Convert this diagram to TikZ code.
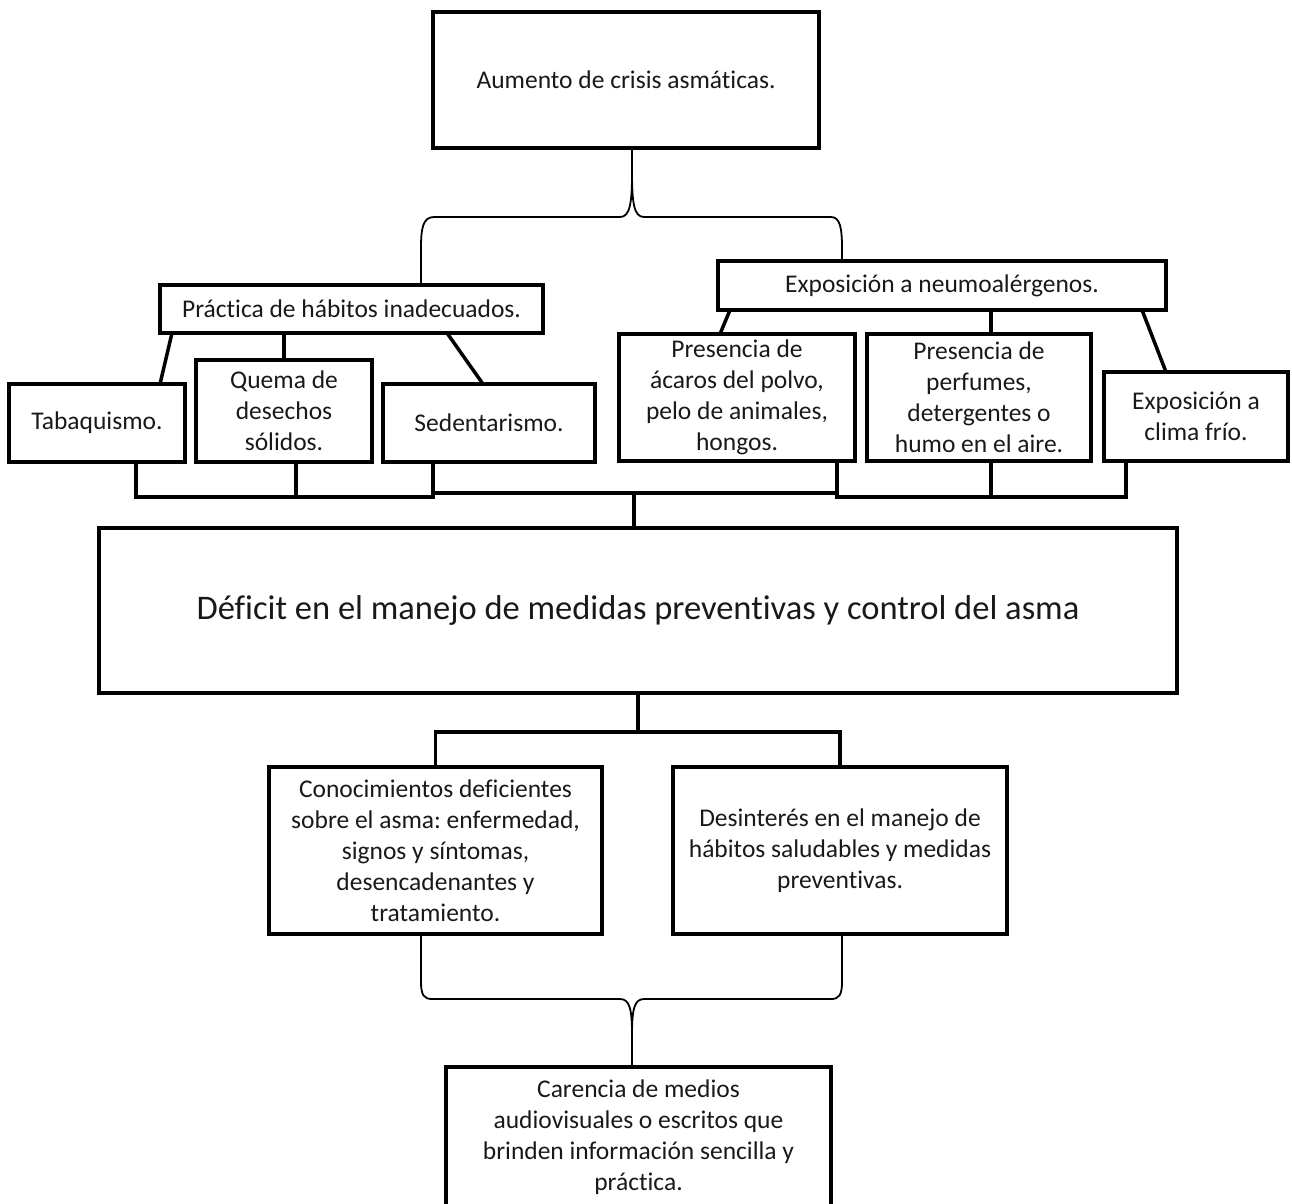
\documentclass[tikz,border=0pt]{standalone}
\usepackage{fontspec}
\setmainfont{Carlito}[Ligatures=NoCommon]
\usetikzlibrary{calc}
\frenchspacing
\begin{document}
\begin{tikzpicture}[x=1pt,y=-1pt,
  box/.style={draw,line width=3.5pt,inner sep=0pt,outer sep=0pt,align=center,
    font=\fontsize{25.5}{31}\selectfont, text=black!90},
  conn/.style={line width=3.5pt},
  brace/.style={line width=1.8pt}]
\useasboundingbox (0,0) rectangle (1292,1203);
\clip (0,0) rectangle (1292,1203);
% boxes
\node[box,minimum width=386pt,minimum height=136pt] (top) at (626,80) {Aumento de crisis asmáticas.};
\node[box,minimum width=383pt,minimum height=48pt] (prac) at (351.5,309) {Práctica de hábitos inadecuados.};
\node[box,minimum width=448pt,minimum height=49pt] (neumo) at (942,285.5) {Exposición a neumoalérgenos.};
\node[box,minimum width=176pt,minimum height=78pt] (tab) at (97,423) {Tabaquismo.};
\node[box,minimum width=176pt,minimum height=102pt] (quema) at (284,411) {Quema de\\desechos\\sólidos.};
\node[box,minimum width=212pt,minimum height=78pt] (sed) at (489,423) {Sedentarismo.};
\node[box,minimum width=236pt,minimum height=127pt] (acaros) at (737,397.5) {Presencia de\\ácaros del polvo,\\pelo de animales,\\hongos.};
\node[box,minimum width=224pt,minimum height=127pt] (perf) at (979,397.5) {Presencia de\\perfumes,\\detergentes o\\humo en el aire.};
\node[box,minimum width=184pt,minimum height=89pt] (clima) at (1196,416.5) {Exposición a\\clima frío.};
\node[box,minimum width=1078pt,minimum height=165pt,font=\fontsize{34.5}{40}\selectfont] (deficit) at (638,610.5) {Déficit en el manejo de medidas preventivas y control del asma};
\node[box,minimum width=333pt,minimum height=167pt] (conoc) at (435.5,850.5) {Conocimientos deficientes\\sobre el asma: enfermedad,\\signos y síntomas,\\desencadenantes y\\tratamiento.};
\node[box,minimum width=334pt,minimum height=167pt] (desint) at (840,850.5) {Desinterés en el manejo de\\hábitos saludables y medidas\\preventivas.};
\node[box,minimum width=385pt,minimum height=140pt] (caren) at (638.5,1137) {Carencia de medios\\audiovisuales o escritos que\\brinden información sencilla y\\práctica.};
% top brace
\coordinate (tcusp) at ($(top.south)+(6,0)$);
\coordinate (pracin) at ($(prac.north west)+(261,0)$);
\coordinate (neumoin) at ($(neumo.north west)+(124,0)$);
\draw[brace] (tcusp) -- ++(0,25) .. controls ++(0,30) and (630,217) .. (620,217) -- (434,217)
  .. controls (423,217) and (421,228) .. (421,248) -- (pracin);
\draw[brace] (tcusp) -- ++(0,25) .. controls ++(0,30) and (634,217) .. (644,217) -- (831,217)
  .. controls (840,217) and (842,228) .. (842,248) -- (neumoin);
% practica children
\draw[conn] ($(prac.south west)+(12,0)$) -- ($(tab.north east)+(-25,0)$);
\draw[conn] (quema.north |- prac.south) -- (quema.north);
\draw[conn] ($(prac.south west)+(287,0)$) -- ($(sed.north west)+(100,0)$);
% neumo children
\draw[conn] ($(neumo.south west)+(12,0)$) -- ($(acaros.north west)+(101,0)$);
\coordinate (pfn) at ($(perf.north)+(12,0)$);
\draw[conn] (pfn |- neumo.south) -- (pfn);
\draw[conn] ($(neumo.south east)+(-24,0)$) -- ($(clima.north west)+(62,0)$);
% bottom buses
\coordinate (tabs) at ($(tab.south)+(39,0)$);
\coordinate (quemas) at ($(quema.south)+(12,0)$);
\coordinate (seds) at ($(sed.south)+(-56,0)$);
\coordinate (acas) at ($(acaros.south)+(100,0)$);
\coordinate (perfs) at ($(perf.south)+(12,0)$);
\coordinate (climas) at ($(clima.south)+(-70,0)$);
\coordinate (busL) at (0,497);
\coordinate (busM) at (0,493);
\coordinate (defin) at ($(deficit.north)+(-4,0)$);
\draw[conn] (tabs) |- (seds |- busL) -- (seds);
\draw[conn] (quemas) -- (quemas |- busL);
\draw[conn] (acas) |- (climas |- busL) -- (climas);
\draw[conn] (perfs) -- (perfs |- busL);
\draw[conn] (seds |- busM) -- (acas |- busM);
\draw[conn] (defin |- busM) -- (defin);
% deficit to children
\coordinate (j2) at ($(deficit.south)+(0,39)$);
\draw[conn] (deficit.south) -- (j2);
\draw[conn] (conoc.north) |- (j2) -| (desint.north);
% bottom brace
\coordinate (bl) at ($(conoc.south)+(-14.5,0)$);
\coordinate (br) at ($(desint.south)+(2,0)$);
\coordinate (bc) at ($(caren.north)+(-6.5,0)$);
\draw[brace] (bl) -- (421,982) .. controls (421,995) and (424,999) .. (432,999) -- (620,999)
  .. controls (630,999) and (632,1010) .. (632,1035) -- (bc);
\draw[brace] (br) -- (842,982) .. controls (842,995) and (839,999) .. (831,999) -- (644,999)
  .. controls (634,999) and (632,1010) .. (632,1035) -- (bc);
\end{tikzpicture}
\end{document}
